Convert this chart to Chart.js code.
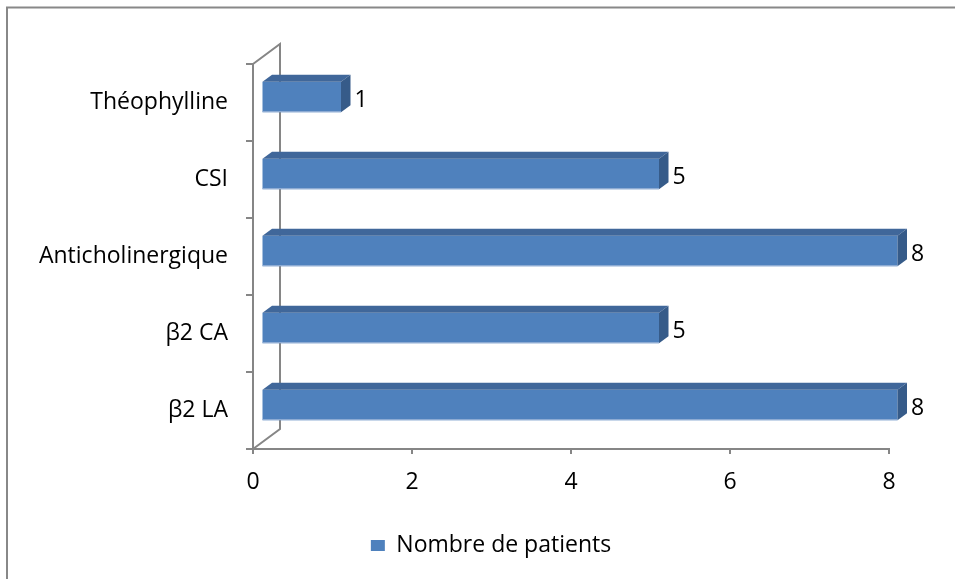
<!DOCTYPE html>
<html>
<head>
<meta charset="utf-8">
<script src="https://cdn.jsdelivr.net/npm/chart.js@4/dist/chart.umd.min.js"></script>
<style>
html,body{margin:0;padding:0;background:#fff;}
#wrap{width:955px;height:579px;position:relative;}
</style>
</head>
<body>
<div id="wrap"><canvas id="c" width="955" height="579"></canvas></div>
<script>
const categories = ['Théophylline', 'CSI', 'Anticholinergique', 'β2 CA', 'β2 LA'];
const values = [1, 5, 8, 5, 8];
const xTicks = [0, 2, 4, 6, 8];
const seriesName = 'Nombre de patients';

const FONT = '"Open Sans"';
const FSIZE = 23;
const AXIS_COLOR = '#868686';
const WALL_DX = 27, WALL_DY = -20;
const BAR_OFF_X = 8.5, BAR_OFF_Y = -5.5;
const BAR_DX = 9.5, BAR_DY = -7;

const threeD = {
  id: 'threeD',
  afterLayout(chart) {
    const lg = chart.legend;
    if (lg) {
      lg.left = 93; lg.right = 889; lg.width = 796;
    }
  },
  beforeDraw(chart) {
    const ctx = chart.ctx;
    ctx.save();
    ctx.strokeStyle = '#888888';
    ctx.lineWidth = 2;
    ctx.strokeRect(7, 7.5, 2000, 2000);
    ctx.restore();
  },
  beforeDatasetsDraw(chart) {
    const ctx = chart.ctx, a = chart.chartArea;
    ctx.save();
    ctx.strokeStyle = AXIS_COLOR;
    ctx.lineWidth = 2;
    ctx.beginPath();
    ctx.moveTo(a.left, a.top);
    ctx.lineTo(a.left + WALL_DX, a.top + WALL_DY);
    ctx.lineTo(a.left + WALL_DX, a.bottom + WALL_DY);
    ctx.lineTo(a.left, a.bottom);
    ctx.stroke();
    ctx.restore();
    ctx.save();
    ctx.translate(BAR_OFF_X, BAR_OFF_Y);
  },
  afterDatasetsDraw(chart) {
    const ctx = chart.ctx;
    const meta = chart.getDatasetMeta(0);
    meta.data.forEach(bar => {
      const p = bar.getProps(['x', 'y', 'base', 'height'], true);
      const x0 = Math.min(p.base, p.x), x1 = Math.max(p.base, p.x);
      const y0 = p.y - p.height / 2, y1 = p.y + p.height / 2;
      ctx.fillStyle = '#40679A';
      ctx.beginPath();
      ctx.moveTo(x0, y0);
      ctx.lineTo(x1, y0);
      ctx.lineTo(x1 + BAR_DX, y0 + BAR_DY);
      ctx.lineTo(x0 + BAR_DX, y0 + BAR_DY);
      ctx.closePath();
      ctx.fill();
      ctx.fillStyle = '#365B89';
      ctx.beginPath();
      ctx.moveTo(x1, y0);
      ctx.lineTo(x1 + BAR_DX, y0 + BAR_DY);
      ctx.lineTo(x1 + BAR_DX, y1 + BAR_DY);
      ctx.lineTo(x1, y1);
      ctx.closePath();
      ctx.fill();
      ctx.fillStyle = '#9DB7D8';
      ctx.fillRect(x0, y1 - 1, x1 - x0, 1);
    });
    ctx.restore();
    ctx.save();
    ctx.font = FSIZE + 'px ' + FONT;
    ctx.fillStyle = '#000';
    ctx.textAlign = 'left';
    ctx.textBaseline = 'middle';
    meta.data.forEach((bar, i) => {
      const p = bar.getProps(['x', 'y'], true);
      ctx.fillText(String(values[i]), p.x + BAR_OFF_X + BAR_DX + 4, p.y - 2.5);
    });
    ctx.restore();
  }
};

new Chart(document.getElementById('c'), {
  type: 'bar',
  data: {
    labels: categories,
    datasets: [{
      label: seriesName,
      data: values,
      backgroundColor: '#4F81BD',
      borderWidth: 0,
      categoryPercentage: 1,
      barPercentage: 0.395,
      clip: false
    }]
  },
  options: {
    indexAxis: 'y',
    responsive: false,
    animation: false,
    devicePixelRatio: 1,
    layout: { padding: { top: 64, left: 0, right: 66, bottom: 12 } },
    plugins: {
      legend: {
        display: true,
        position: 'bottom',
        labels: {
          boxWidth: 14,
          boxHeight: 11,
          padding: 10,
          color: '#000',
          font: { family: FONT, size: FSIZE }
        }
      },
      tooltip: { enabled: false }
    },
    scales: {
      x: {
        type: 'linear',
        min: 0,
        max: 8,
        afterBuildTicks(scale) { scale.ticks = xTicks.map(v => ({ value: v })); },
        afterFit(scale) { scale.height = 75; },
        grid: { display: true, drawOnChartArea: false, drawTicks: true, tickLength: 5, color: AXIS_COLOR, lineWidth: 2 },
        border: { display: true, color: AXIS_COLOR, width: 2 },
        ticks: { color: '#000', font: { family: FONT, size: FSIZE }, padding: 15, maxRotation: 0 }
      },
      y: {
        type: 'category',
        afterFit(scale) { scale.width = 253; },
        grid: { display: true, offset: true, drawOnChartArea: false, drawTicks: true, tickLength: 7, color: AXIS_COLOR, lineWidth: 2 },
        border: { display: true, color: AXIS_COLOR, width: 2 },
        ticks: { color: '#000', font: { family: FONT, size: FSIZE }, padding: 18 }
      }
    }
  },
  plugins: [threeD]
});
</script>
</body>
</html>
